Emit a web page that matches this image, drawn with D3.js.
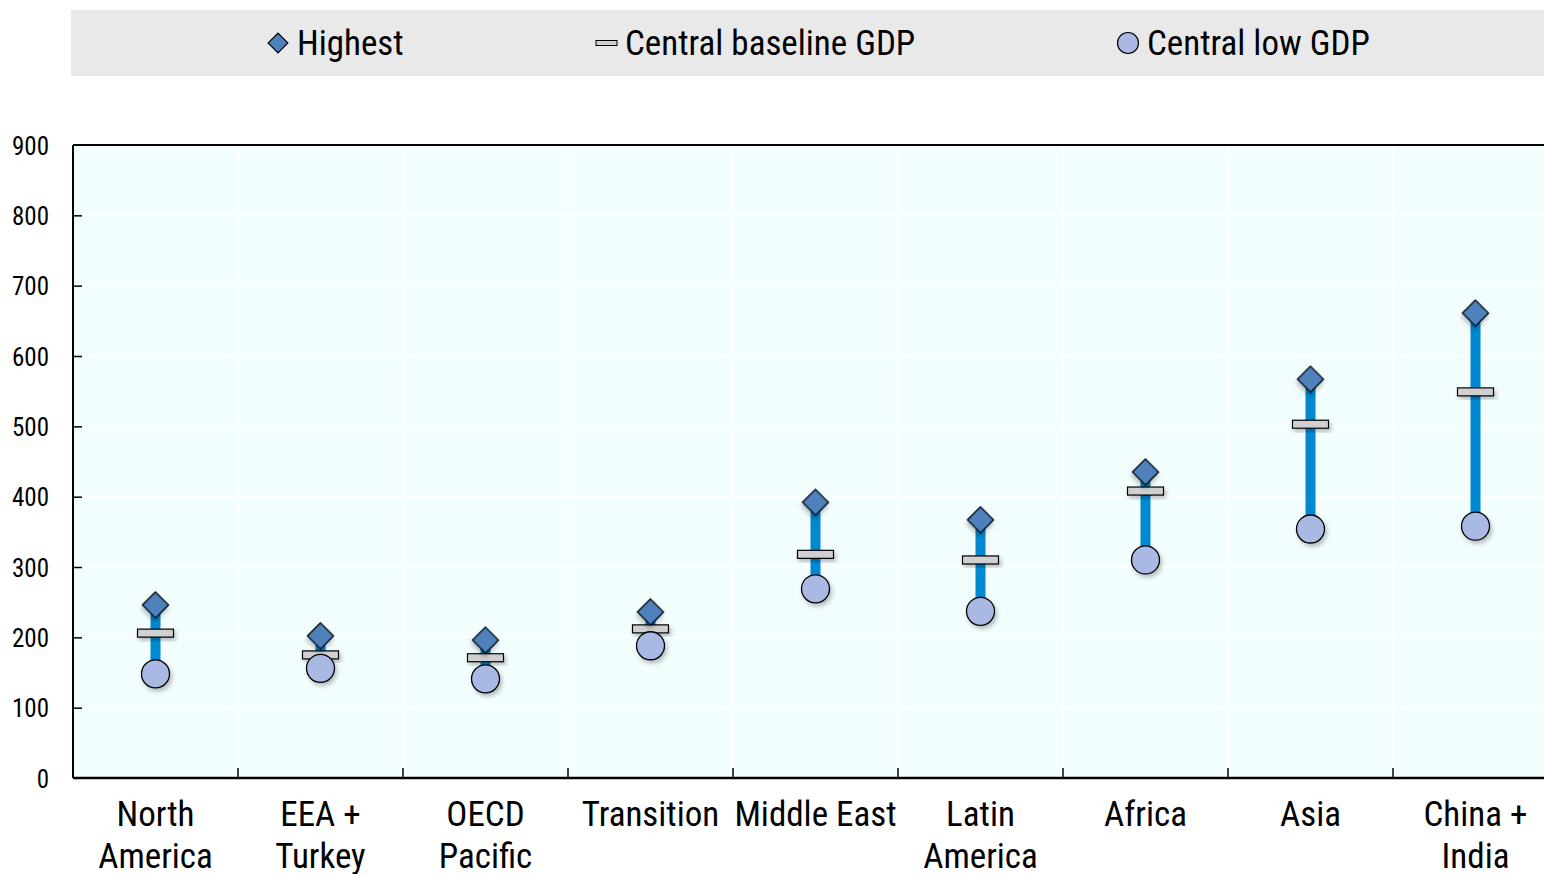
<!DOCTYPE html>
<html><head><meta charset="utf-8">
<script src="https://cdn.jsdelivr.net/npm/d3@7"></script>
<style>
body{margin:0;background:#fff;}
svg{display:block;}
text{font-family:"Liberation Sans Narrow","Arial Narrow","Roboto Condensed","Liberation Sans",sans-serif;fill:#000;}
</style></head>
<body><svg id="c" width="1544" height="874"></svg>
<script>
const categories = [["North","America"],["EEA +","Turkey"],["OECD","Pacific"],["Transition"],["Middle East"],["Latin","America"],["Africa"],["Asia"],["China +","India"]];
const highest  = [246, 202, 196, 236, 392, 367, 435, 567, 661];
const baseline = [206, 175, 171, 212, 318, 310, 408, 503, 549];
const lowGDP   = [148, 156, 141, 188, 269, 237, 310, 354, 358];
const yTicks = [0,100,200,300,400,500,600,700,800,900];
const legendLabels = ["Highest","Central baseline GDP","Central low GDP"];

const svg = d3.select("#c");
const L = 73, R = 1558, T = 145, B = 778;
const x = d3.scaleBand().domain(d3.range(categories.length)).range([L, R]);
const y = d3.scaleLinear().domain([0, 900]).range([B, T]);

const defs = svg.append("defs");
const f = defs.append("filter").attr("id","sh").attr("x","-50%").attr("y","-50%").attr("width","200%").attr("height","200%");
f.append("feDropShadow").attr("dx",2).attr("dy",3).attr("stdDeviation",2).attr("flood-color","#000").attr("flood-opacity",0.25);

// legend
svg.append("rect").attr("x",71).attr("y",10).attr("width",1473).attr("height",66).attr("fill","#e9e9e9");
const lg = svg.append("g");
lg.append("path").attr("d",d3.symbol(d3.symbolSquare, 196)()).attr("transform","translate(278,43) rotate(45)")
  .attr("fill","#4f81bd").attr("stroke","#000").attr("stroke-width",1.2);
lg.append("rect").attr("x",596).attr("y",40.5).attr("width",21).attr("height",5).attr("fill","#d0d0d0").attr("stroke","#000").attr("stroke-width",1);
lg.append("circle").attr("cx",1128).attr("cy",43).attr("r",10.5).attr("fill","#a9b9e3").attr("stroke","#000").attr("stroke-width",1.2);
[[297,legendLabels[0]],[625,legendLabels[1]],[1147,legendLabels[2]]].forEach(([lx,t])=>{
  lg.append("text").attr("x",lx).attr("y",55).attr("font-size",35).text(t);
});

// plot bg
svg.append("rect").attr("x",L).attr("y",T).attr("width",R-L).attr("height",B-T).attr("fill","#f2fdfe");
// gridlines
svg.append("g").selectAll("line").data(yTicks.slice(1)).join("line")
  .attr("x1",L).attr("x2",R).attr("y1",d=>y(d)).attr("y2",d=>y(d)).attr("stroke","#ffffff").attr("stroke-width",1.5);
svg.append("g").selectAll("line").data(d3.range(1,categories.length)).join("line")
  .attr("x1",d=>x(d)).attr("x2",d=>x(d)).attr("y1",T).attr("y2",B).attr("stroke","#ffffff").attr("stroke-width",1.5);

// axes
const yAxis = d3.axisLeft(y).tickValues(yTicks).tickSize(-9).tickPadding(24);
const gy = svg.append("g").attr("transform",`translate(${L},0)`).call(yAxis);
gy.select(".domain").remove();
gy.selectAll(".tick line").attr("stroke","#000").attr("stroke-width",1.5);
gy.selectAll(".tick text").attr("font-size",25).attr("font-family",null).attr("dy","0.36em").attr("x",-24);
gy.selectAll(".tick").filter(d=>d===0||d===900).select("line").remove();

svg.append("line").attr("x1",L).attr("x2",L).attr("y1",T).attr("y2",B).attr("stroke","#000").attr("stroke-width",2);
svg.append("line").attr("x1",L).attr("x2",R).attr("y1",T).attr("y2",T).attr("stroke","#000").attr("stroke-width",2);
svg.append("line").attr("x1",L).attr("x2",R).attr("y1",B).attr("y2",B).attr("stroke","#000").attr("stroke-width",2.5);
svg.append("g").selectAll("line").data(d3.range(1,categories.length)).join("line")
  .attr("x1",d=>x(d)).attr("x2",d=>x(d)).attr("y1",B).attr("y2",B-10).attr("stroke","#000").attr("stroke-width",1.5);

// category labels
const cx = i => x(i) + x.bandwidth()/2;
const cl = svg.append("g");
categories.forEach((lines,i)=>{
  const t = cl.append("text").attr("text-anchor","middle").attr("font-size",35);
  lines.forEach((s,j)=>t.append("tspan").attr("x",cx(i)).attr("y",826+j*42).text(s));
});

// marks
const g = svg.append("g");
g.selectAll("line.rng").data(categories).join("line").attr("class","rng")
  .attr("x1",(d,i)=>cx(i)).attr("x2",(d,i)=>cx(i))
  .attr("y1",(d,i)=>y(highest[i])).attr("y2",(d,i)=>y(lowGDP[i]))
  .attr("stroke","#0088d1").attr("stroke-width",10);
g.selectAll("rect.base").data(baseline).join("rect").attr("class","base")
  .attr("x",(d,i)=>cx(i)-18).attr("y",d=>y(d)-4).attr("width",36).attr("height",8)
  .attr("fill","#d0d0d0").attr("stroke","#000").attr("stroke-width",1.2).attr("filter","url(#sh)");
g.selectAll("circle.low").data(lowGDP).join("circle").attr("class","low")
  .attr("cx",(d,i)=>cx(i)).attr("cy",d=>y(d)).attr("r",14)
  .attr("fill","#a9b9e3").attr("stroke","#000").attr("stroke-width",1.3).attr("filter","url(#sh)");
g.selectAll("path.hi").data(highest).join("path").attr("class","hi")
  .attr("d",d3.symbol(d3.symbolSquare, 340)())
  .attr("transform",(d,i)=>`translate(${cx(i)},${y(d)}) rotate(45)`)
  .attr("fill","#4f81bd").attr("stroke","#000").attr("stroke-width",1.3).attr("filter","url(#sh)");
</script></body></html>
